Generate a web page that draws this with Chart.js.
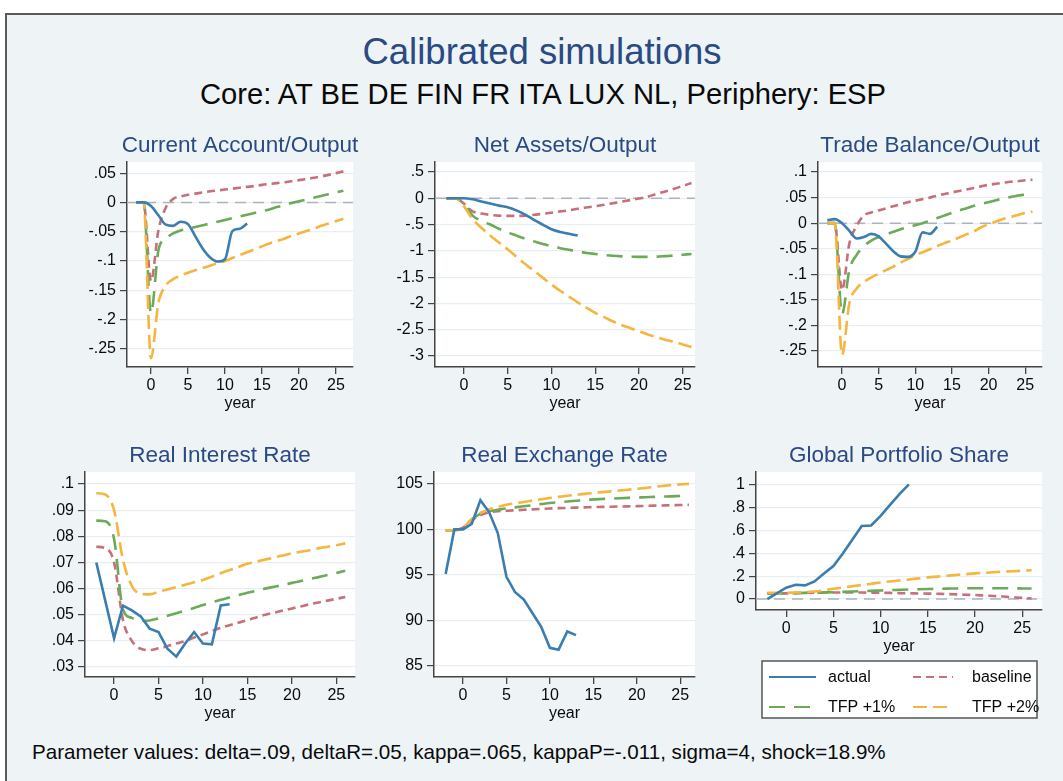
<!DOCTYPE html>
<html>
<head>
<meta charset="utf-8">
<title>Calibrated simulations</title>
<script src="https://cdn.jsdelivr.net/npm/chart.js@4.4.1/dist/chart.umd.min.js"></script>
<style>
    body { margin: 0; width: 1063px; height: 781px; background: #fff; overflow: hidden; position: relative; font-family: 'Liberation Sans', Arial, sans-serif; }
    .frame { position: absolute; left: 5px; top: 13px; width: 1100px; height: 800px; background: #eef3f6; border-top: 2px solid #5a5a5a; border-left: 2px solid #5a5a5a; }
    .main-title { position: absolute; left: 0; top: 30px; width: 1084px; text-align: center; font-size: 36.5px; line-height: 44px; color: #2a4a84; }
    .sub-title { position: absolute; left: 0; top: 77px; width: 1086px; text-align: center; font-size: 29.2px; line-height: 35px; color: #0a0a0a; }
    .note { position: absolute; left: 32px; top: 740px; font-size: 20.6px; line-height: 24px; color: #0a0a0a; white-space: nowrap; }
    canvas { position: absolute; }
</style>
</head>
<body>
<div class="frame"></div>
<div class="main-title">Calibrated simulations</div>
<div class="sub-title">Core: AT BE DE FIN FR ITA LUX NL, Periphery: ESP</div>
<canvas id="ca"></canvas>
<canvas id="na"></canvas>
<canvas id="tb"></canvas>
<canvas id="ri"></canvas>
<canvas id="rx"></canvas>
<canvas id="gp"></canvas>
<div class="note">Parameter values: delta=.09, deltaR=.05, kappa=.065, kappaP=-.011, sigma=4, shock=18.9%</div>

<script>
// years of the simulation, data starts two years before the shock
const years = [-2, -1, 0, 1, 2, 3, 4, 5, 6, 7, 8, 9, 10, 11, 12, 13, 14, 15, 16, 17, 18, 19, 20, 21, 22, 23, 24, 25, 26]
const actualYears = [-2, -1, 0, 1, 2, 3, 4, 5, 6, 7, 8, 9, 10, 11, 12, 13]
const xTicks = [0, 5, 10, 15, 20, 25]

// current account / output
const caActual = [0, 0, -0.006, -0.022, -0.038, -0.040, -0.033, -0.037, -0.058, -0.079, -0.094, -0.101, -0.097, -0.049, -0.045, -0.036]
const caBaseline = [0, 0, -0.134, -0.048, -0.009, 0.006, 0.010, 0.013, 0.015, 0.017, 0.019, 0.0205, 0.022, 0.0235, 0.025, 0.0265, 0.028, 0.030, 0.0315, 0.033, 0.0345, 0.036, 0.038, 0.040, 0.042, 0.0445, 0.047, 0.050, 0.053]
const caTfp1 = [0, 0, -0.189, -0.082, -0.062, -0.053, -0.048, -0.045, -0.042, -0.039, -0.036, -0.033, -0.030, -0.027, -0.024, -0.021, -0.018, -0.015, -0.012, -0.008, -0.005, -0.001, 0.002, 0.005, 0.008, 0.011, 0.014, 0.017, 0.020]
const caTfp2 = [0, 0, -0.266, -0.172, -0.142, -0.131, -0.125, -0.120, -0.116, -0.112, -0.108, -0.104, -0.100, -0.095, -0.090, -0.085, -0.080, -0.075, -0.070, -0.066, -0.062, -0.057, -0.053, -0.049, -0.045, -0.040, -0.036, -0.032, -0.028]
const caTicks = [-0.25, -0.2, -0.15, -0.1, -0.05, 0, 0.05]

// net assets / output
const naActual = [0, 0, 0, -0.02, -0.06, -0.1, -0.14, -0.17, -0.23, -0.31, -0.41, -0.5, -0.59, -0.64, -0.675, -0.71]
const naBaseline = [0, 0, -0.1, -0.25, -0.29, -0.315, -0.33, -0.335, -0.335, -0.33, -0.315, -0.295, -0.275, -0.25, -0.23, -0.2, -0.175, -0.15, -0.125, -0.095, -0.065, -0.035, -0.005, 0.03, 0.085, 0.13, 0.18, 0.235, 0.29]
const naTfp1 = [0, 0, -0.1, -0.33, -0.43, -0.5, -0.58, -0.65, -0.71, -0.77, -0.82, -0.87, -0.91, -0.95, -0.98, -1.01, -1.04, -1.06, -1.08, -1.095, -1.105, -1.11, -1.115, -1.115, -1.11, -1.1, -1.09, -1.075, -1.06]
const naTfp2 = [0, 0, -0.15, -0.4, -0.56, -0.71, -0.84, -0.97, -1.11, -1.25, -1.38, -1.51, -1.64, -1.76, -1.87, -1.98, -2.08, -2.18, -2.26, -2.34, -2.41, -2.47, -2.53, -2.59, -2.64, -2.69, -2.73, -2.78, -2.83]
const naTicks = [-3, -2.5, -2, -1.5, -1, -0.5, 0, 0.5]

// trade balance / output
const tbActual = [0.006, 0.008, 0.0, -0.015, -0.03, -0.027, -0.021, -0.026, -0.04, -0.055, -0.065, -0.066, -0.056, -0.018, -0.021, -0.007]
const tbBaseline = [0, 0, -0.131, -0.04, -0.005, 0.015, 0.021, 0.025, 0.029, 0.033, 0.037, 0.041, 0.044, 0.047, 0.050, 0.054, 0.057, 0.060, 0.063, 0.066, 0.069, 0.072, 0.075, 0.077, 0.079, 0.081, 0.082, 0.084, 0.085]
const tbTfp1 = [0, 0, -0.178, -0.092, -0.062, -0.045, -0.034, -0.027, -0.022, -0.017, -0.012, -0.008, -0.004, 0.0, 0.005, 0.010, 0.015, 0.020, 0.025, 0.029, 0.034, 0.038, 0.041, 0.045, 0.048, 0.051, 0.054, 0.056, 0.058]
const tbTfp2 = [0, 0, -0.258, -0.157, -0.128, -0.115, -0.106, -0.099, -0.092, -0.085, -0.077, -0.070, -0.063, -0.057, -0.051, -0.045, -0.039, -0.034, -0.028, -0.022, -0.016, -0.008, -0.002, 0.003, 0.008, 0.012, 0.016, 0.020, 0.023]
const tbTicks = [-0.25, -0.2, -0.15, -0.1, -0.05, 0, 0.05, 0.1]

// real interest rate
const riActual = [0.070, 0.0555, 0.041, 0.0535, 0.0517, 0.0494, 0.0447, 0.0434, 0.037, 0.034, 0.039, 0.0434, 0.039, 0.0387, 0.0536, 0.054]
const riBaseline = [0.076, 0.0755, 0.070, 0.048, 0.040, 0.037, 0.0365, 0.0372, 0.038, 0.039, 0.040, 0.0413, 0.0425, 0.0438, 0.045, 0.046, 0.047, 0.048, 0.049, 0.050, 0.0508, 0.0516, 0.0524, 0.0532, 0.054, 0.0547, 0.0554, 0.0561, 0.0568]
const riTfp1 = [0.086, 0.0858, 0.079, 0.052, 0.0488, 0.0476, 0.0478, 0.0486, 0.0496, 0.0506, 0.0516, 0.0526, 0.0537, 0.0547, 0.0557, 0.0566, 0.0575, 0.0584, 0.0592, 0.06, 0.0607, 0.0614, 0.0622, 0.0629, 0.0637, 0.0644, 0.0652, 0.066, 0.0668]
const riTfp2 = [0.0965, 0.096, 0.090, 0.071, 0.061, 0.058, 0.0578, 0.0588, 0.0597, 0.0606, 0.0615, 0.0624, 0.0633, 0.0646, 0.0659, 0.0671, 0.0683, 0.0695, 0.0703, 0.0711, 0.0719, 0.0727, 0.0735, 0.0741, 0.0747, 0.0754, 0.076, 0.0766, 0.0773]
const riTicks = [0.03, 0.04, 0.05, 0.06, 0.07, 0.08, 0.09, 0.1]

// real exchange rate
const rxActual = [95.1, 100.0, 100.0, 100.6, 103.2, 101.9, 99.6, 94.8, 93.1, 92.3, 90.8, 89.3, 87.0, 86.8, 88.8, 88.4]
const rxBaseline = [99.9, 99.9, 100.2, 101.0, 101.55, 101.85, 102.0, 102.05, 102.1, 102.15, 102.2, 102.25, 102.3, 102.33, 102.36, 102.39, 102.42, 102.45, 102.47, 102.49, 102.51, 102.53, 102.55, 102.58, 102.61, 102.63, 102.65, 102.68, 102.7]
const rxTfp1 = [99.9, 99.9, 100.2, 101.1, 101.7, 102.0, 102.15, 102.3, 102.42, 102.54, 102.66, 102.78, 102.9, 102.98, 103.06, 103.14, 103.22, 103.3, 103.34, 103.38, 103.42, 103.46, 103.5, 103.53, 103.57, 103.6, 103.63, 103.67, 103.7]
const rxTfp2 = [99.9, 99.9, 100.2, 101.1, 101.8, 102.2, 102.45, 102.7, 102.86, 103.01, 103.16, 103.31, 103.45, 103.57, 103.69, 103.8, 103.9, 104.0, 104.09, 104.18, 104.27, 104.36, 104.45, 104.55, 104.66, 104.77, 104.88, 104.93, 105.0]
const rxTicks = [85, 90, 95, 100, 105]

// global portfolio share
const gpActual = [0.0, 0.05, 0.1, 0.125, 0.12, 0.155, 0.225, 0.29, 0.4, 0.52, 0.64, 0.645, 0.73, 0.825, 0.92, 1.005]
const gpBaseline = [0.05, 0.05, 0.05, 0.052, 0.054, 0.056, 0.057, 0.058, 0.058, 0.058, 0.057, 0.056, 0.055, 0.054, 0.052, 0.051, 0.049, 0.048, 0.046, 0.044, 0.041, 0.038, 0.035, 0.031, 0.027, 0.022, 0.016, 0.01, 0.005]
const gpTfp1 = [0.05, 0.05, 0.05, 0.052, 0.054, 0.056, 0.058, 0.06, 0.063, 0.066, 0.069, 0.072, 0.075, 0.078, 0.081, 0.084, 0.086, 0.088, 0.09, 0.091, 0.093, 0.094, 0.095, 0.095, 0.095, 0.095, 0.094, 0.093, 0.092]
const gpTfp2 = [0.055, 0.055, 0.055, 0.057, 0.06, 0.066, 0.077, 0.09, 0.101, 0.112, 0.123, 0.134, 0.145, 0.154, 0.163, 0.172, 0.181, 0.19, 0.197, 0.204, 0.211, 0.218, 0.225, 0.23, 0.235, 0.24, 0.244, 0.248, 0.252]
const gpTicks = [0, 0.2, 0.4, 0.6, 0.8, 1]

// line styles
const blue = '#3a7db0'
const red = '#c6707a'
const green = '#6bab58'
const orange = '#f5b53e'

Chart.defaults.font.family = "'Liberation Sans', Arial, sans-serif"
Chart.defaults.color = '#0a0a0a'

// white plot region, panel title above it, dashed line at zero
const panelPlugin = {
    id: 'panel',
    beforeDraw(chart, args, opts) {
        const a = chart.chartArea
        chart.ctx.save()
        chart.ctx.fillStyle = '#fff'
        chart.ctx.fillRect(a.left, a.top, a.right - a.left, a.bottom - a.top)
        chart.ctx.restore()
    },
    beforeDatasetsDraw(chart, args, opts) {
        if (!opts.zeroLine) return
        const ctx = chart.ctx
        const a = chart.chartArea
        const y = chart.scales.y.getPixelForValue(0)
        ctx.save()
        ctx.strokeStyle = '#abb4bc'
        ctx.lineWidth = 1.5
        ctx.setLineDash([11, 7])
        ctx.beginPath()
        ctx.moveTo(a.left, y)
        ctx.lineTo(a.right, y)
        ctx.stroke()
        ctx.restore()
    },
    afterDraw(chart, args, opts) {
        const ctx = chart.ctx
        const a = chart.chartArea
        ctx.save()
        ctx.fillStyle = '#2a4a84'
        ctx.font = "22.5px 'Liberation Sans', Arial, sans-serif"
        ctx.textAlign = 'center'
        ctx.textBaseline = 'middle'
        ctx.fillText(opts.title, (a.left + a.right) / 2, a.top - 16)
        ctx.restore()
    }
}

// boxed legend under the last panel, two columns
const boxLegend = {
    id: 'boxLegend',
    afterDraw(chart, args, opts) {
        if (!opts.show) return
        const ctx = chart.ctx
        const a = chart.chartArea
        const x0 = a.left + 6
        const y0 = a.bottom + 51
        const w = a.right - 5 - x0
        const h = 57
        ctx.save()
        ctx.fillStyle = '#fff'
        ctx.fillRect(x0, y0, w, h)
        ctx.strokeStyle = '#555'
        ctx.lineWidth = 1.5
        ctx.strokeRect(x0, y0, w, h)

        const order = ['actual', 'baseline', 'TFP +1%', 'TFP +2%']
        order.forEach((name, i) => {
            const ds = chart.data.datasets.find(d => d.label == name)
            const col = i % 2
            const row = Math.floor(i / 2)
            const y = y0 + 16 + row * 30
            const sx = col == 0 ? x0 + 7 : x0 + 151
            const sw = col == 0 ? 47 : 40
            ctx.strokeStyle = ds.borderColor
            ctx.lineWidth = 1.8
            ctx.setLineDash(ds.borderDash || [])
            ctx.beginPath()
            ctx.moveTo(sx, y)
            ctx.lineTo(sx + sw, y)
            ctx.stroke()
            ctx.setLineDash([])
            ctx.fillStyle = '#0a0a0a'
            ctx.font = "16px 'Liberation Sans', Arial, sans-serif"
            ctx.textAlign = 'left'
            ctx.textBaseline = 'middle'
            ctx.fillText(name, col == 0 ? x0 + 66 : x0 + 210, y + 1)
        })
        ctx.restore()
    }
}

function points(xs, ys) {
    return ys.map((v, i) => ({ x: xs[i], y: v }))
}

function fmt(v) {
    return String(v).replace(/^(-?)0\./, '$1.')
}

// plot rectangle of each panel on the page, plus extra space below it
function panel(id, title, box, xRange, yRange, yTicks, actual, baseline, tfp1, tfp2, opt) {
    const yAxisW = 70
    const xAxisH = 46
    const bottomPad = opt.bottomPad || 2
    const left = box[0] - yAxisW
    const top = box[1] - 40
    const width = box[2] + 10 - left
    const height = box[3] + xAxisH + bottomPad - top
    const cv = document.getElementById(id)
    cv.width = width
    cv.height = height
    cv.style.left = left + 'px'
    cv.style.top = top + 'px'

    const line = { pointRadius: 0, borderWidth: 2.6, fill: false, cubicInterpolationMode: 'monotone', borderCapStyle: 'butt' }
    // yearly observations are joined with straight segments in the lower panels
    const actualLine = Object.assign({}, line, opt.straight ? { cubicInterpolationMode: 'default', tension: 0 } : {})

    return new Chart(cv.getContext('2d'), {
        type: 'line',
        data: {
            datasets: [
                Object.assign({ label: 'actual', data: points(actualYears, actual), borderColor: blue }, actualLine),
                Object.assign({ label: 'TFP +2%', data: points(years, tfp2), borderColor: orange, borderDash: [14, 6] }, line),
                Object.assign({ label: 'TFP +1%', data: points(years, tfp1), borderColor: green, borderDash: [16, 9] }, line),
                Object.assign({ label: 'baseline', data: points(years, baseline), borderColor: red, borderDash: [8, 5] }, line)
            ]
        },
        options: {
            responsive: false,
            animation: false,
            devicePixelRatio: 1,
            layout: { padding: { left: 0, top: 40, right: 10, bottom: bottomPad } },
            plugins: {
                legend: { display: false },
                tooltip: { enabled: false },
                panel: { title: title, zeroLine: !!opt.zeroLine },
                boxLegend: { show: !!opt.legend }
            },
            scales: {
                x: {
                    type: 'linear',
                    min: xRange[0],
                    max: xRange[1],
                    afterBuildTicks: s => { s.ticks = xTicks.map(v => ({ value: v })) },
                    afterFit: s => { s.height = xAxisH },
                    ticks: { font: { size: 16 }, padding: 2, maxRotation: 0, color: '#0a0a0a' },
                    grid: { drawOnChartArea: false, tickLength: 7, tickColor: '#444', lineWidth: 1.3 },
                    border: { color: '#444', width: 1.5 },
                    title: { display: true, text: 'year', font: { size: 16 }, padding: 0, color: '#0a0a0a' }
                },
                y: {
                    type: 'linear',
                    min: yRange[0],
                    max: yRange[1],
                    afterBuildTicks: s => { s.ticks = yTicks.map(v => ({ value: v })) },
                    afterFit: s => { s.width = yAxisW },
                    ticks: { font: { size: 16 }, padding: 4, color: '#0a0a0a', callback: v => fmt(v) },
                    grid: { color: '#e8eef2', lineWidth: 1.2, tickLength: 7, tickColor: '#444' },
                    border: { color: '#444', width: 1.5 }
                }
            }
        },
        plugins: [panelPlugin, boxLegend]
    })
}

panel('ca', 'Current Account/Output', [127, 162, 353, 367], [-3.24, 27.3], [-0.281, 0.069], caTicks, caActual, caBaseline, caTfp1, caTfp2, { zeroLine: true })
panel('na', 'Net Assets/Output', [435, 162, 695, 367], [-3.3, 26.4], [-3.21, 0.69], naTicks, naActual, naBaseline, naTfp1, naTfp2, { zeroLine: true })
panel('tb', 'Trade Balance/Output', [818, 162, 1042, 367], [-3.28, 27.3], [-0.2815, 0.1197], tbTicks, tbActual, tbBaseline, tbTfp1, tbTfp2, { zeroLine: true })
panel('ri', 'Real Interest Rate', [85, 472, 355, 677], [-3.27, 27.1], [0.0262, 0.1046], riTicks, riActual, riBaseline, riTfp1, riTfp2, { straight: true })
panel('rx', 'Real Exchange Rate', [434, 472, 695, 677], [-3.34, 26.7], [83.8, 106.3], rxTicks, rxActual, rxBaseline, rxTfp1, rxTfp2, { straight: true })
panel('gp', 'Global Portfolio Share', [756, 472, 1042, 610], [-3.2, 27.1], [-0.096, 1.114], gpTicks, gpActual, gpBaseline, gpTfp1, gpTfp2, { zeroLine: true, straight: true, bottomPad: 70, legend: true })
</script>
</body>
</html>
